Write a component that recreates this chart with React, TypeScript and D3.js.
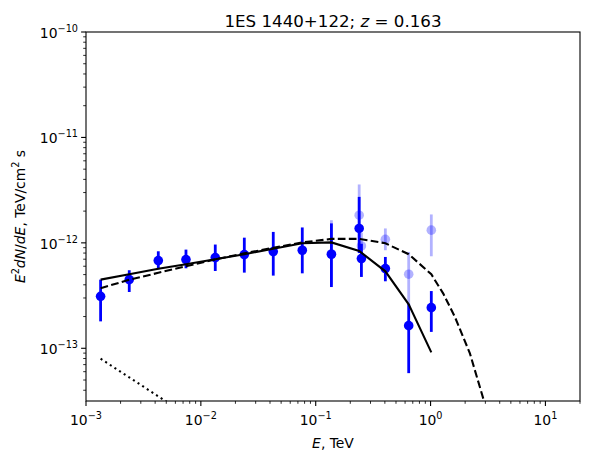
import React from 'react';
import * as d3 from 'd3';

// ---- data ----
const fermiE = [1.34e-3, 2.38e-3, 4.26e-3, 7.42e-3, 1.335e-2, 2.39e-2, 4.27e-2, 7.64e-2, 0.137];
const fermiF = [3.11e-13, 4.48e-13, 6.79e-13, 6.94e-13, 7.25e-13, 7.74e-13, 8.27e-13, 8.51e-13, 7.8e-13];
const fermiLo = [1.8e-13, 3.42e-13, 5.61e-13, 5.74e-13, 5.41e-13, 5.22e-13, 4.89e-13, 5.14e-13, 3.81e-13];
const fermiHi = [4.48e-13, 5.5e-13, 8.32e-13, 8.63e-13, 9.64e-13, 1.12e-12, 1.27e-12, 1.4e-12, 1.53e-12];

const vheE = [0.239, 0.25, 0.404, 0.645, 1.015];
const vheF = [1.37e-12, 7.1e-13, 5.7e-13, 1.64e-13, 2.43e-13];
const vheLo = [8.0e-13, 4.75e-13, 4.32e-13, 5.81e-14, 1.43e-13];
const vheHi = [2.73e-12, 9.8e-13, 7.35e-13, 2.65e-13, 3.49e-13];

const deabsE = [0.137, 0.239, 0.25, 0.404, 0.645, 1.015];
const deabsF = [7.85e-13, 1.83e-12, 9.35e-13, 1.08e-12, 5.04e-13, 1.32e-12];
const deabsLo = [4.0e-13, 1.1e-12, 6.5e-13, 8.51e-13, 2.67e-13, 7.46e-13];
const deabsHi = [1.64e-12, 3.58e-12, 1.25e-12, 1.37e-12, 8.2e-13, 1.86e-12];

const solidE = [1.34e-3, 2.38e-3, 4.26e-3, 7.42e-3, 1.335e-2, 2.39e-2, 4.27e-2, 7.64e-2, 0.137, 0.239, 0.404, 0.645, 1.015];
const solidF = [4.48e-13, 5.04e-13, 5.68e-13, 6.26e-13, 6.98e-13, 7.8e-13, 8.79e-13, 9.91e-13, 1.01e-12, 8.38e-13, 5.37e-13, 2.61e-13, 9.14e-14];

const dashedE = [1.34e-3, 2.38e-3, 4.26e-3, 7.42e-3, 1.335e-2, 2.39e-2, 4.27e-2, 7.64e-2, 0.137, 0.239, 0.404, 0.645, 1.015, 1.29, 1.63, 2.2, 2.88, 3.3];
const dashedF = [3.71e-13, 4.47e-13, 5.2e-13, 6.0e-13, 6.98e-13, 7.96e-13, 8.98e-13, 1.01e-12, 1.09e-12, 1.09e-12, 9.91e-13, 7.8e-13, 5.04e-13, 3.3e-13, 1.98e-13, 8.95e-14, 3.32e-14, 1.66e-14];

const dottedE = [1.34e-3, 2.38e-3, 4.26e-3, 7.42e-3];
const dottedF = [7.96e-14, 5.3e-14, 3.5e-14, 2.36e-14];

const xTickExps = [-3, -2, -1, 0, 1];
const yTickExps = [-13, -12, -11, -10];

// ---- layout ----
const W = 591, H = 461;
const L = 86, R = 580, T = 32, B = 401;
const FONT = 'DejaVu Sans, Verdana, sans-serif';
const BLUE = '#0000ff';

function Pow10({ exp, x, y, anchor }: { exp: number; x: number; y: number; anchor: string }) {
  const sup = exp < 0 ? '\u2212' + Math.abs(exp) : String(exp);
  return (
    <text x={x} y={y} textAnchor={anchor} fontFamily={FONT} fontSize={13.9} fill="#000">
      <tspan>10</tspan>
      <tspan dy={-6} fontSize={9.7}>{sup}</tspan>
    </text>
  );
}

export default function App() {
  const x = d3.scaleLog().domain([1e-3, 20]).range([L, R]);
  const y = d3.scaleLog().domain([Math.pow(10, -13.5), 1e-10]).range([B, T]);
  const line = d3.line<[number, number]>().x(d => x(d[0])).y(d => y(d[1]));

  const zip = (a: number[], b: number[]) => a.map((v, i) => [v, b[i]] as [number, number]);

  const xMinor: number[] = [];
  for (let e = -3; e <= 1; e++) for (let m = 2; m <= 9; m++) {
    const v = m * Math.pow(10, e);
    if (v <= 20 * 1.0001) xMinor.push(v);
  }
  const yMinor: number[] = [];
  for (let e = -14; e <= -11; e++) for (let m = 2; m <= 9; m++) {
    const v = m * Math.pow(10, e);
    if (v >= Math.pow(10, -13.5) && v <= 1e-10) yMinor.push(v);
  }

  const errPoints = (E: number[], F: number[], lo: number[], hi: number[], alpha: number, key: string) => (
    <g key={key}>
      {E.map((e, i) => (
        <g key={'p' + i}>
          <line x1={x(e)} x2={x(e)} y1={y(lo[i])} y2={y(hi[i])} stroke={BLUE} strokeOpacity={alpha} strokeWidth={2.8} />
          <circle cx={x(e)} cy={y(F[i])} r={4.8} fill={BLUE} fillOpacity={alpha} />
        </g>
      ))}
    </g>
  );

  const midX = (L + R) / 2;
  const midY = (T + B) / 2;

  return (
    <svg width={W} height={H} style={{ position: 'absolute', left: 0, top: 0, background: '#fff' }}>
      <defs>
        <clipPath id="plotclip">
          <rect x={L} y={T} width={R - L} height={B - T} />
        </clipPath>
      </defs>
      <rect x={0} y={0} width={W} height={H} fill="#fff" />
      <g clipPath="url(#plotclip)">
        {errPoints(deabsE, deabsF, deabsLo, deabsHi, 0.3, 'deabs')}
        {errPoints(fermiE, fermiF, fermiLo, fermiHi, 1, 'fermi')}
        {errPoints(vheE, vheF, vheLo, vheHi, 1, 'vhe')}
        <path d={line(zip(solidE, solidF)) || ''} fill="none" stroke="#000" strokeWidth={2.08} />
        <path d={line(zip(dashedE, dashedF)) || ''} fill="none" stroke="#000" strokeWidth={2.08} strokeDasharray="7.7,3.33" />
        <path d={line(zip(dottedE, dottedF)) || ''} fill="none" stroke="#000" strokeWidth={2.08} strokeDasharray="2.08,3.44" />
      </g>
      {/* frame */}
      <rect x={L} y={T} width={R - L} height={B - T} fill="none" stroke="#000" strokeWidth={1.1} />
      {/* x ticks */}
      {xMinor.map((v, i) => (
        <line key={'xm' + i} x1={x(v)} x2={x(v)} y1={B} y2={B + 2.8} stroke="#000" strokeWidth={0.83} />
      ))}
      {xTickExps.map(e => (
        <g key={'xt' + e}>
          <line x1={x(Math.pow(10, e))} x2={x(Math.pow(10, e))} y1={B} y2={B + 4.9} stroke="#000" strokeWidth={1.1} />
          <Pow10 exp={e} x={x(Math.pow(10, e))} y={425} anchor="middle" />
        </g>
      ))}
      {/* y ticks */}
      {yMinor.map((v, i) => (
        <line key={'ym' + i} x1={L - 2.8} x2={L} y1={y(v)} y2={y(v)} stroke="#000" strokeWidth={0.83} />
      ))}
      {yTickExps.map(e => (
        <g key={'yt' + e}>
          <line x1={L - 4.9} x2={L} y1={y(Math.pow(10, e))} y2={y(Math.pow(10, e))} stroke="#000" strokeWidth={1.1} />
          <Pow10 exp={e} x={L - 8} y={y(Math.pow(10, e)) + 6} anchor="end" />
        </g>
      ))}
      {/* title */}
      <text x={midX} y={27} textAnchor="middle" fontFamily={FONT} fontSize={16.67}>
        <tspan>1ES 1440+122; </tspan>
        <tspan fontStyle="italic">z</tspan>
        <tspan> = 0.163</tspan>
      </text>
      {/* x label */}
      <text x={midX} y={448} textAnchor="middle" fontFamily={FONT} fontSize={13.9}>
        <tspan fontStyle="italic">E</tspan>
        <tspan>, TeV</tspan>
      </text>
      {/* y label */}
      <text transform={`translate(25,${midY}) rotate(-90)`} textAnchor="middle" fontFamily={FONT} fontSize={13.9}>
        <tspan fontStyle="italic">E</tspan>
        <tspan dy={-6} fontSize={9.7}>2</tspan>
        <tspan dy={6} fontStyle="italic">dN</tspan>
        <tspan>/</tspan>
        <tspan fontStyle="italic">dE</tspan>
        <tspan>, TeV/cm</tspan>
        <tspan dy={-6} fontSize={9.7}>2</tspan>
        <tspan dy={6}> s</tspan>
      </text>
    </svg>
  );
}
